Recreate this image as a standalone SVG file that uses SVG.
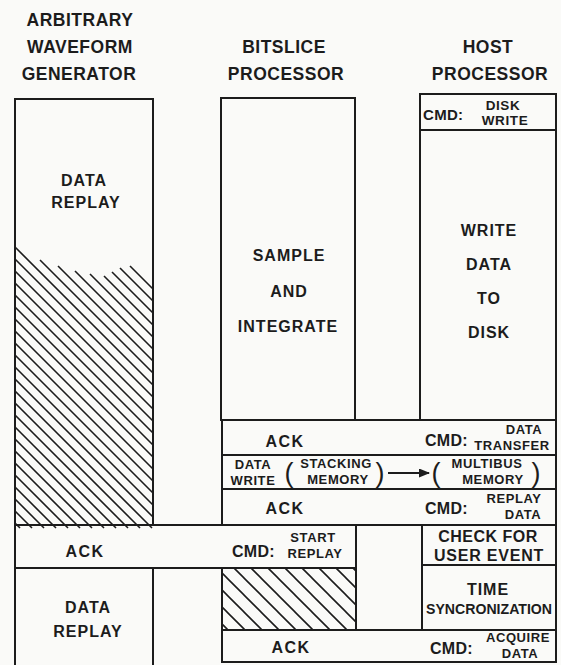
<svg xmlns="http://www.w3.org/2000/svg" width="561" height="665" viewBox="0 0 561 665">
<style>
.b{fill:none;stroke:#1c1c1c;stroke-width:2}
.h{fill:none;stroke:#1c1c1c;stroke-width:1.6}
text{font-family:"Liberation Sans",Arial,sans-serif;font-weight:bold;fill:#1c1c1c;text-anchor:middle}
.hd{font-size:17.5px;letter-spacing:0.5px}
.t{font-size:16px;letter-spacing:1px}
.c{font-size:16px;text-anchor:start;letter-spacing:0.3px}
.s{font-size:13px;letter-spacing:0.6px}
.p{font-size:27px;font-weight:normal}
</style>
<defs>
<pattern id="hatch" patternUnits="userSpaceOnUse" width="17" height="17" x="6" y="0">
<path d="M0,0 L17,17 M-2,15 L2,19 M15,-2 L19,2" stroke="#1c1c1c" stroke-width="1.6" fill="none"/>
</pattern>
<marker id="arr" markerWidth="11" markerHeight="9" refX="10" refY="4.5" orient="auto" markerUnits="userSpaceOnUse">
<path d="M0,0 L11,4.5 L0,9 Z" fill="#1c1c1c"/>
</marker>
</defs>
<rect width="561" height="665" fill="#fafaf8"/>

<g id="headers">
<text class="hd" x="80" y="26">ARBITRARY</text>
<text class="hd" x="80" y="53">WAVEFORM</text>
<text class="hd" x="79" y="80">GENERATOR</text>
<text class="hd" x="284" y="53">BITSLICE</text>
<text class="hd" x="286" y="80">PROCESSOR</text>
<text class="hd" x="488" y="53">HOST</text>
<text class="hd" x="490" y="80">PROCESSOR</text>
</g>

<g id="awg-replay-1">
<rect class="b" x="15" y="99" width="138" height="426"/>
<path class="h" d="M15,247 L153,385 M15,259 L153,397 M15,271 L153,409 M15,283 L153,421 M15,295 L153,433 M15,307 L153,445 M15,319 L153,457 M15,331 L153,469 M15,343 L153,481 M15,355 L153,493 M15,367 L153,505 M15,379 L153,517 M15,391 L152,528 M15,403 L140,528 M15,415 L128,528 M15,427 L116,528 M15,439 L104,528 M15,451 L92,528 M15,463 L80,528 M15,475 L68,528 M15,487 L56,528 M15,499 L44,528 M15,511 L32,528 M15,523 L20,528 M40,260 L153,373 M58,266 L153,361 M75,271 L153,349 M90,274 L153,337 M104,276 L153,325 M112,272 L153,313 M120,268 L153,301 M130,266 L153,289"/>
<text class="t" x="84" y="186">DATA</text>
<text class="t" x="86" y="208">REPLAY</text>
</g>

<g id="bitslice-sample">
<rect class="b" x="221" y="98" width="134" height="322"/>
<text class="t" x="289" y="261">SAMPLE</text>
<text class="t" x="289" y="297">AND</text>
<text class="t" x="288" y="332">INTEGRATE</text>
</g>

<g id="host-disk-write-cmd">
<rect class="b" x="420" y="94" width="136" height="36"/>
<text class="c" x="423" y="120" style="font-size:15px">CMD:</text>
<text class="s" x="503" y="110" style="font-size:13.5px">DISK</text>
<text class="s" x="505" y="125" style="font-size:13.5px">WRITE</text>
</g>

<g id="host-write-data">
<rect class="b" x="420" y="130" width="136" height="290"/>
<text class="t" x="489" y="236">WRITE</text>
<text class="t" x="489" y="270">DATA</text>
<text class="t" x="489" y="304">TO</text>
<text class="t" x="489" y="338">DISK</text>
</g>

<g id="row-data-transfer">
<rect class="b" x="222" y="420" width="334" height="35"/>
<text class="t" x="285" y="447" style="letter-spacing:1.5px">ACK</text>
<text class="c" x="425" y="446">CMD:</text>
<text class="s" x="524" y="434">DATA</text>
<text class="s" x="512" y="450">TRANSFER</text>
</g>

<g id="row-data-write">
<rect class="b" x="222" y="455" width="334" height="34"/>
<text class="s" x="253" y="469">DATA</text>
<text class="s" x="253" y="485">WRITE</text>
<text class="p" x="289" y="482">(</text>
<text class="s" x="336" y="468">STACKING</text>
<text class="s" x="338" y="484">MEMORY</text>
<text class="p" x="380" y="482">)</text>
<text class="p" x="436" y="482">(</text>
<text class="s" x="487" y="468">MULTIBUS</text>
<text class="s" x="493" y="484">MEMORY</text>
<text class="p" x="536" y="482">)</text>
</g>

<g id="row-replay-data">
<rect class="b" x="222" y="489" width="334" height="36"/>
<text class="t" x="285" y="514" style="letter-spacing:1.5px">ACK</text>
<text class="c" x="425" y="514">CMD:</text>
<text class="s" x="514" y="503">REPLAY</text>
<text class="s" x="523" y="519">DATA</text>
</g>

<g id="row-start-replay">
<rect class="b" x="15" y="525" width="341" height="43"/>
<text class="t" x="85" y="557" style="letter-spacing:1.5px">ACK</text>
<text class="c" x="232" y="557">CMD:</text>
<text class="s" x="313" y="542">START</text>
<text class="s" x="315" y="558">REPLAY</text>
</g>

<g id="host-check-event">
<rect class="b" x="422" y="525" width="134" height="40"/>
<text class="t" x="488" y="542" style="letter-spacing:0.5px">CHECK FOR</text>
<text class="t" x="489" y="561" style="letter-spacing:0.8px">USER EVENT</text>
</g>

<g id="host-time-sync">
<rect class="b" x="422" y="565" width="134" height="65"/>
<text class="t" x="488" y="595">TIME</text>
<text class="t" x="489" y="614" style="letter-spacing:0;font-size:15px" textLength="126" lengthAdjust="spacingAndGlyphs">SYNCRONIZATION</text>
</g>

<g id="bitslice-idle">
<rect x="222" y="568" width="134" height="62" fill="url(#hatch)"/>
<rect class="b" x="222" y="568" width="134" height="62"/>
</g>

<g id="awg-replay-2">
<path class="b" d="M15,568 L15,665 M153,568 L153,665"/>
<text class="t" x="88" y="613">DATA</text>
<text class="t" x="88" y="637">REPLAY</text>
</g>

<g id="row-acquire-data">
<rect class="b" x="222" y="630" width="334" height="32"/>
<text class="t" x="291" y="653" style="letter-spacing:1.5px">ACK</text>
<text class="c" x="430" y="654">CMD:</text>
<text class="s" x="518" y="642">ACQUIRE</text>
<text class="s" x="520" y="658">DATA</text>
</g>

<g id="connectors">
<line x1="388" y1="473" x2="429" y2="473" stroke="#1c1c1c" stroke-width="2" marker-end="url(#arr)"/>
</g>
</svg>
